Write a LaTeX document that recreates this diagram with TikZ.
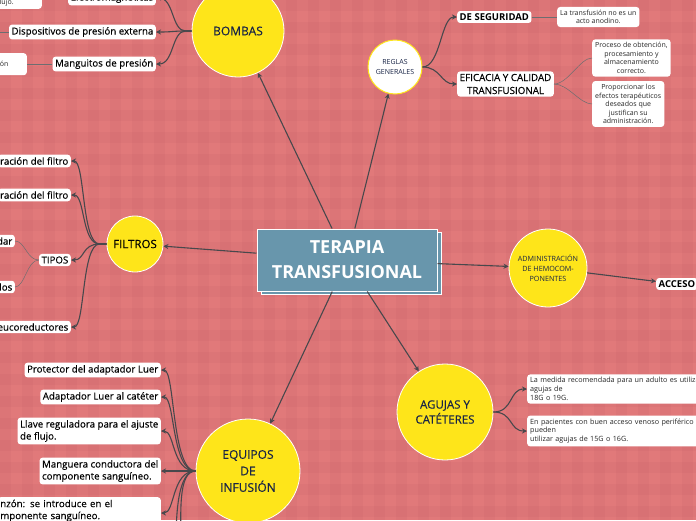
\documentclass[tikz,border=0pt]{standalone}
\usepackage{fontspec}
\setmainfont{Open Sans}
\newfontfamily\medfont{Open Sans}[FakeBold=0.3]
\usepackage{tikz}
\usetikzlibrary{arrows.meta,shadows}

\definecolor{bgred}{RGB}{225,121,122}
\definecolor{plaid}{RGB}{200,98,104}
\definecolor{hubyellow}{RGB}{254,229,26}
\definecolor{navy}{RGB}{24,36,70}
\definecolor{boxblue}{RGB}{104,150,172}
\definecolor{linkgray}{RGB}{72,72,76}

\begin{document}
\begin{tikzpicture}[x=1pt, y=-1pt,
  hub/.style={circle, fill=hubyellow, draw=white, line width=0.8pt, inner sep=0pt, align=center, text=navy},
  leaf/.style={fill=white, rounded corners=3pt, inner sep=2.5pt, font=\medfont\fontsize{9.7}{12}\selectfont},
  note/.style={fill=white, rounded corners=3pt, inner sep=3pt, font=\fontsize{7}{8.6}\selectfont, text=black!85},
  link/.style={draw=linkgray, line width=1.1pt, -{Stealth[length=5pt,width=5pt,inset=1.5pt]}},
  thinlink/.style={draw=linkgray!80, line width=0.5pt}]

\useasboundingbox (0,0) rectangle (696,520);
\clip (0,0) rectangle (696,520);

% background
\fill[bgred] (0,0) rectangle (696,520);
\foreach \p in {0,22,...,700} {
  \fill[plaid, opacity=0.16] (\p,0) rectangle ++(11,520);
  \fill[plaid, opacity=0.16] (0,\p) rectangle ++(696,11);
}

% central topic
\node[fill=boxblue, draw=white, line width=1pt, minimum width=180pt, minimum height=62pt,
      copy shadow={shadow xshift=4pt, shadow yshift=-3pt}, align=center, text=white,
      font=\fontsize{18}{25}\selectfont\bfseries] (terapia) at (347,260) {TERAPIA\\TRANSFUSIONAL};

% main branches
\node[hub, minimum size=92pt, font=\medfont\fontsize{12}{14}\selectfont] (bombas) at (238,31) {BOMBAS};
\node[hub, fill=white, draw=hubyellow, line width=1pt, minimum size=54pt, font=\fontsize{7}{9.5}\selectfont] (reglas) at (395,67) {REGLAS\\GENERALES};
\node[hub, minimum size=56pt, font=\medfont\fontsize{11.5}{13}\selectfont, text=black] (filtros) at (135,244) {FILTROS};
\node[hub, minimum size=78pt, font=\fontsize{7.2}{10}\selectfont] (admin) at (548,268) {ADMINISTRACIÓN\\DE HEMOCOM-\\PONENTES};
\node[hub, minimum size=96pt, font=\medfont\fontsize{11.5}{15}\selectfont] (agujas) at (445,412) {AGUJAS Y\\CATÉTERES};
\node[hub, minimum size=104pt, font=\medfont\fontsize{12}{16.5}\selectfont] (equipos) at (248,471) {EQUIPOS\\DE\\INFUSIÓN};

\foreach \hubname in {bombas,reglas,filtros,admin,agujas,equipos}
  \draw[link] (terapia) -- (\hubname);

% bombas
\node[leaf, anchor=east] (elec) at (156,-2) {Electromagnéticas};
\node[leaf, anchor=east] (disp) at (156,32) {Dispositivos de presión externa};
\node[leaf, anchor=east] (mang) at (156,64) {Manguitos de presión};
\node[note, anchor=south east, align=left, text width=52pt] (flujo) at (42,9) {de flujo.};
\node[note, anchor=north east, align=left, text width=40pt, minimum height=22pt] (presion) at (27,53) {presión};
\coordinate (dispend) at (-8,32);
\foreach \leafname in {elec,disp,mang}
  \draw[link] (bombas.west) -- ++(-6,0) .. controls +(-14,0) and +(18,0) .. (\leafname.east);
\draw[thinlink] (disp.west) -- (dispend);
\draw[thinlink] (mang.west) -- (presion.east |- mang.west);

% reglas generales
\node[leaf, anchor=west, font=\fontsize{9.5}{11}\selectfont\bfseries] (seguridad) at (457,17) {DE SEGURIDAD};
\node[leaf, anchor=west, align=center, font=\medfont\fontsize{9.8}{13}\selectfont] (eficacia) at (457,84) {EFICACIA Y CALIDAD\\TRANSFUSIONAL};
\node[note, anchor=west, align=center] (anodino) at (557,17) {La transfusión no es un\\acto anodino.};
\node[note, anchor=west, align=center] (proceso) at (592,58) {Proceso de obtención,\\procesamiento y\\almacenamiento\\correcto.};
\node[note, anchor=west, align=center] (efectos) at (592,104) {Proporcionar los\\efectos terapéuticos\\deseados que\\justifican su\\administración.};
\foreach \leafname in {seguridad,eficacia}
  \draw[link] (reglas.east) .. controls +(18,0) and +(-16,0) .. (\leafname.west);
\draw[thinlink] (seguridad.east) -- (anodino.west);
\foreach \leafname in {proceso,efectos}
  \draw[thinlink] (eficacia.east) .. controls +(14,0) and +(-12,0) .. (\leafname.west);

% filtros
\node[leaf, anchor=east] (filtroa) at (71,161) {ración del filtro};
\node[leaf, anchor=east] (filtrob) at (71,195) {ración del filtro};
\node[leaf, anchor=east] (tipos) at (71,260) {TIPOS};
\node[leaf, anchor=east] (leuco) at (71,327) {eucoreductores};
\node[leaf, anchor=east] (tipoa) at (15,241) {dar};
\node[leaf, anchor=east] (tipob) at (15,287) {dos};
\foreach \leafname in {filtroa,filtrob,tipos,leuco}
  \draw[link] (filtros.west) -- ++(-7,0) .. controls +(-18,0) and +(14,0) .. (\leafname.east);
\foreach \leafname in {tipoa,tipob}
  \draw[thinlink] (tipos.west) .. controls +(-12,0) and +(10,0) .. (\leafname.east);

% administracion
\node[leaf, anchor=west, font=\fontsize{9.5}{11}\selectfont\bfseries] (acceso) at (656,284) {ACCESO};
\draw[link] (admin) -- (acceso);

% agujas
\node[note, anchor=west, align=left, text width=200pt, font=\fontsize{7.2}{8.8}\selectfont] (medida) at (527,389)
  {La medida recomendada para un adulto es utilizar\\agujas de\\18G o 19G.};
\node[note, anchor=west, align=left, text width=200pt, font=\fontsize{7.2}{8.8}\selectfont] (pacientes) at (527,431)
  {En pacientes con buen acceso venoso periférico se\\pueden\\utilizar agujas de 15G o 16G.};
\foreach \leafname in {medida,pacientes}
  \draw[link] (agujas.east) .. controls +(20,0) and +(-18,0) .. (\leafname.west);

% equipos de infusion
\node[leaf, anchor=east] (protector) at (161,370) {Protector del adaptador Luer};
\node[leaf, anchor=east] (adaptador) at (161,397) {Adaptador Luer al catéter};
\node[leaf, anchor=east, align=left] (llave) at (161,431) {Llave reguladora para el ajuste\\de flujo.};
\node[leaf, anchor=east, align=left] (manguera) at (161,471) {Manguera conductora del\\componente sanguíneo.};
\node[leaf, anchor=north east, align=left, text width=158pt] (punzon) at (161,497) {nzón: se introduce en el\\mponente sanguíneo.};
\coordinate (equipoa) at (176,545);
\coordinate (equipob) at (181,545);
\foreach \leafname in {protector,adaptador,llave,manguera}
  \draw[link] (equipos.west) .. controls +(-24,0) and +(14,0) .. (\leafname.east);
\draw[link] (equipos.west) .. controls +(-24,0) and +(14,0) .. (punzon.east |- 0,513);
\foreach \leafname in {equipoa,equipob}
  \draw[linkgray, line width=1.1pt] (equipos.west) .. controls +(-18,0) and +(0,-30) .. (\leafname);

\end{tikzpicture}
\end{document}
